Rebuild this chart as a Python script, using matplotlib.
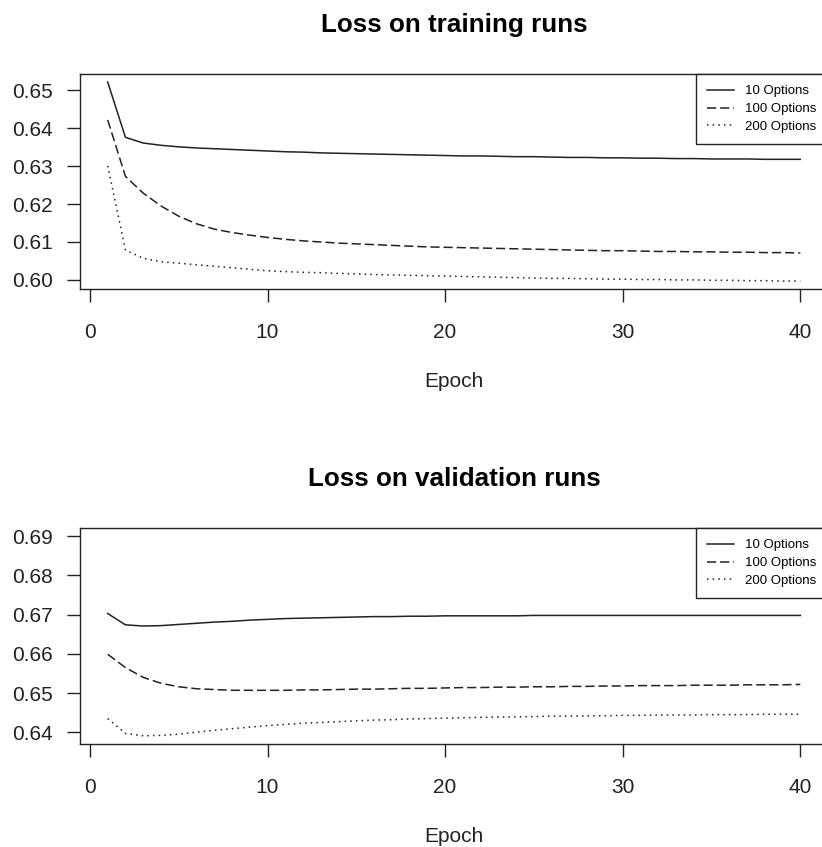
import matplotlib
matplotlib.use("Agg")
import matplotlib.pyplot as plt

plt.rcParams['font.family'] = ['Liberation Sans', 'DejaVu Sans']

# epochs 1..40
epochs = list(range(1, 41))

# training loss
train10 = [0.6522, 0.6376, 0.6361, 0.6355, 0.6351, 0.6348, 0.6346, 0.6344, 0.6342, 0.6340,
           0.6338, 0.6337, 0.6335, 0.6334, 0.6333, 0.6332, 0.6331, 0.6330, 0.6329, 0.6328,
           0.6327, 0.6327, 0.6326, 0.6325, 0.6325, 0.6324, 0.6323, 0.6323, 0.6322, 0.6322,
           0.6321, 0.6321, 0.6320, 0.6320, 0.6319, 0.6319, 0.6319, 0.6318, 0.6318, 0.6318]
train100 = [0.6422, 0.6273, 0.6229, 0.6195, 0.6168, 0.6148, 0.6134, 0.6125, 0.6118, 0.6112,
            0.6107, 0.6103, 0.6100, 0.6097, 0.6095, 0.6093, 0.6091, 0.6089, 0.6087, 0.6086,
            0.6085, 0.6084, 0.6083, 0.6082, 0.6081, 0.6080, 0.6079, 0.6078, 0.6077, 0.6077,
            0.6076, 0.6075, 0.6075, 0.6074, 0.6074, 0.6073, 0.6073, 0.6072, 0.6072, 0.6071]
train200 = [0.6301, 0.6079, 0.6057, 0.6048, 0.6044, 0.6040, 0.6036, 0.6032, 0.6028, 0.6024,
            0.6022, 0.6020, 0.6019, 0.6017, 0.6016, 0.6014, 0.6013, 0.6012, 0.6011, 0.6010,
            0.6009, 0.6008, 0.6007, 0.6006, 0.6005, 0.6004, 0.6004, 0.6003, 0.6002, 0.6002,
            0.6001, 0.6001, 0.6000, 0.6000, 0.5999, 0.5999, 0.5998, 0.5998, 0.5997, 0.5997]

# validation loss
val10 = [0.6703, 0.6674, 0.6671, 0.6672, 0.6675, 0.6678, 0.6681, 0.6683, 0.6686, 0.6688,
         0.6690, 0.6691, 0.6692, 0.6693, 0.6694, 0.6695, 0.6695, 0.6696, 0.6696, 0.6697,
         0.6697, 0.6697, 0.6697, 0.6697, 0.6698, 0.6698, 0.6698, 0.6698, 0.6698, 0.6698,
         0.6698, 0.6698, 0.6698, 0.6698, 0.6698, 0.6698, 0.6698, 0.6698, 0.6698, 0.6698]
val100 = [0.6599, 0.6565, 0.6540, 0.6525, 0.6516, 0.6511, 0.6509, 0.6507, 0.6507, 0.6507,
          0.6507, 0.6508, 0.6508, 0.6509, 0.6510, 0.6510, 0.6511, 0.6512, 0.6512, 0.6513,
          0.6514, 0.6514, 0.6515, 0.6515, 0.6516, 0.6516, 0.6517, 0.6517, 0.6518, 0.6518,
          0.6519, 0.6519, 0.6519, 0.6520, 0.6520, 0.6520, 0.6521, 0.6521, 0.6521, 0.6522]
val200 = [0.6435, 0.6397, 0.6391, 0.6392, 0.6395, 0.6400, 0.6405, 0.6409, 0.6413, 0.6417,
          0.6420, 0.6423, 0.6425, 0.6427, 0.6429, 0.6431, 0.6432, 0.6434, 0.6435, 0.6436,
          0.6437, 0.6438, 0.6439, 0.6439, 0.6440, 0.6441, 0.6441, 0.6442, 0.6442, 0.6443,
          0.6443, 0.6444, 0.6444, 0.6444, 0.6445, 0.6445, 0.6445, 0.6446, 0.6446, 0.6446]

legendLabels = ["10 Options", "100 Options", "200 Options"]
xTicks = [0, 10, 20, 30, 40]
trainTicks = [0.60, 0.61, 0.62, 0.63, 0.64, 0.65]
valTicks = [0.64, 0.65, 0.66, 0.67, 0.68, 0.69]

# R style line types: solid, dashed (lty 2), dotted (lty 3)
styles = ['-', (0, (6, 2.6)), (0, (1, 2.7))]
lineColor = '#222222'


def drawPanel(ax, series, title, yTicks, yLim):
    for values, style, label in zip(series, styles, legendLabels):
        ax.plot(epochs, values, linestyle=style, color=lineColor, linewidth=1.1, label=label)
    ax.set_xlim(-0.56, 41.56)
    ax.set_ylim(*yLim)
    ax.set_xticks(xTicks)
    ax.set_yticks(yTicks)
    ax.set_yticklabels(["%.2f" % t for t in yTicks])
    ax.tick_params(axis='both', direction='out', length=9.4, width=1.0,
                   labelsize=15, colors='#222222')
    ax.tick_params(axis='y', pad=10)
    ax.tick_params(axis='x', pad=15)
    for spine in ax.spines.values():
        spine.set_linewidth(1.0)
        spine.set_color('#222222')
    ax.set_title(title, fontsize=18.7, fontweight='bold', pad=30)
    ax.set_xlabel("Epoch", fontsize=15, labelpad=21.5, color='#222222')
    leg = ax.legend(loc='upper right', bbox_to_anchor=(1, 1), borderaxespad=0,
                    fancybox=False, framealpha=1, edgecolor='#222222', fontsize=9.5,
                    borderpad=0.85, handlelength=2.0, handletextpad=0.9, labelspacing=0.42)
    leg.get_frame().set_linewidth(1.0)


fig = plt.figure(figsize=(8.22, 8.47), dpi=100)
axTop = fig.add_axes([0.0973, 0.6588, 0.9100, 0.2538])
axBottom = fig.add_axes([0.0973, 0.1216, 0.9100, 0.2550])

drawPanel(axTop, [train10, train100, train200], "Loss on training runs",
          trainTicks, (0.5976, 0.6543))
drawPanel(axBottom, [val10, val100, val200], "Loss on validation runs",
          valTicks, (0.6370, 0.6921))

fig.savefig("out.png", dpi=100)
